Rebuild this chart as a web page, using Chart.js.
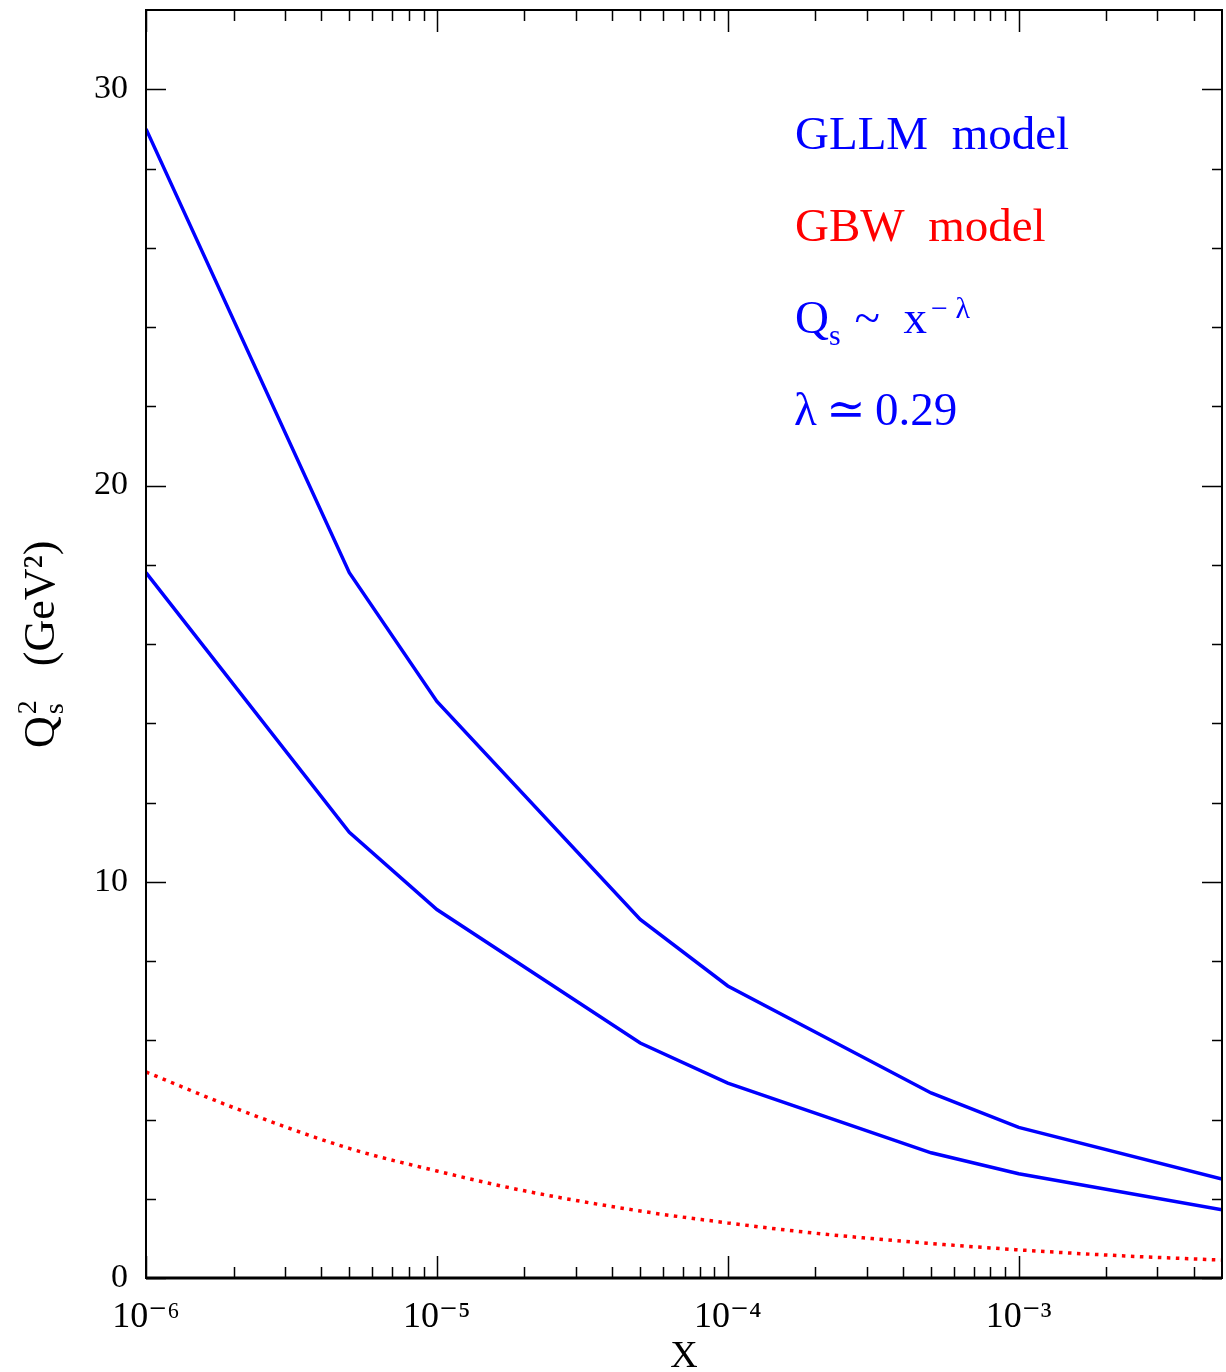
<!DOCTYPE html>
<html>
<head>
<meta charset="utf-8">
<script src="https://cdn.jsdelivr.net/npm/chart.js@4.4.0/dist/chart.umd.min.js"></script>
<style>
  body { margin: 0; background: #fff; }
  #wrap { width: 1226px; height: 1372px; }
</style>
</head>
<body>
<div id="wrap"><canvas id="myChart" width="1226" height="1372"></canvas></div>
<script>
// x values (Bjorken x) where the curves were read
const xGllm = [1e-6, 5e-6, 1e-5, 5e-5, 1e-4, 5e-4, 1e-3, 5e-3];
const gllmUpper = [29.0, 17.8, 14.55, 9.05, 7.37, 4.67, 3.8, 2.5];
const gllmLower = [17.8, 11.25, 9.3, 5.93, 4.92, 3.16, 2.63, 1.72];

const xGbw = [1e-6, 2e-6, 5e-6, 1e-5, 2e-5, 5e-5, 1e-4, 2e-4, 5e-4, 1e-3, 2e-3, 5e-3];
const gbw = [5.2, 4.3, 3.27, 2.7, 2.2, 1.69, 1.39, 1.13, 0.87, 0.71, 0.58, 0.45];

const xMajorTicks = [1e-6, 1e-5, 1e-4, 1e-3];
const xTickLabels = ['10\u207B\u2076', '10\u207B\u2075', '10\u207B\u2074', '10\u207B\u00B3'];
const yMajorTicks = [0, 10, 20, 30];
const yMinorTicks = [2, 4, 6, 8, 12, 14, 16, 18, 22, 24, 26, 28];

const AZUL = '#0000ff';
const ROJO = '#ff0000';
const FUENTE = '"Liberation Serif", "DejaVu Serif", serif';

function puntos(xs, ys) {
  return xs.map((x, i) => ({ x: x, y: ys[i] }));
}

// minor ticks on the log axis: 2..9 times each decade
function menoresX(min, max) {
  const res = [];
  for (let d = Math.floor(Math.log10(min)); d <= Math.ceil(Math.log10(max)); d++) {
    for (let k = 2; k <= 9; k++) {
      const v = k * Math.pow(10, d);
      if (v > min && v < max) res.push(v);
    }
  }
  return res;
}

const marcoPlugin = {
  id: 'marco',
  afterDraw(chart) {
    const ctx = chart.ctx;
    const a = chart.chartArea;
    const sx = chart.scales.x;
    const sy = chart.scales.y;
    ctx.save();
    ctx.strokeStyle = '#000';
    ctx.lineWidth = 1.5;
    // ticks inward, all four sides
    ctx.beginPath();
    xMajorTicks.forEach(v => {
      const px = Math.round(sx.getPixelForValue(v)) + 0.5;
      ctx.moveTo(px, a.bottom); ctx.lineTo(px, a.bottom - 22);
      ctx.moveTo(px, a.top); ctx.lineTo(px, a.top + 22);
    });
    menoresX(sx.min, sx.max).forEach(v => {
      const px = Math.round(sx.getPixelForValue(v)) + 0.5;
      ctx.moveTo(px, a.bottom); ctx.lineTo(px, a.bottom - 11);
      ctx.moveTo(px, a.top); ctx.lineTo(px, a.top + 11);
    });
    yMajorTicks.forEach(v => {
      const py = Math.round(sy.getPixelForValue(v)) + 0.5;
      ctx.moveTo(a.left, py); ctx.lineTo(a.left + 20, py);
      ctx.moveTo(a.right, py); ctx.lineTo(a.right - 20, py);
    });
    yMinorTicks.forEach(v => {
      const py = Math.round(sy.getPixelForValue(v)) + 0.5;
      ctx.moveTo(a.left, py); ctx.lineTo(a.left + 10, py);
      ctx.moveTo(a.right, py); ctx.lineTo(a.right - 10, py);
    });
    ctx.stroke();
    // frame
    ctx.lineWidth = 2;
    ctx.strokeRect(a.left, a.top, a.right - a.left, a.bottom - a.top);
    ctx.lineWidth = 3;
    ctx.beginPath();
    ctx.moveTo(a.left, a.bottom); ctx.lineTo(a.right, a.bottom);
    ctx.stroke();

    // annotations
    ctx.textBaseline = 'alphabetic';
    ctx.textAlign = 'left';
    ctx.font = '47px ' + FUENTE;
    ctx.fillStyle = AZUL;
    ctx.fillText('GLLM  model', 795, 149);
    ctx.fillStyle = ROJO;
    ctx.fillText('GBW  model', 795, 241);
    ctx.fillStyle = AZUL;
    let x = 795;
    ctx.fillText('Q', x, 333);
    x += ctx.measureText('Q').width;
    ctx.font = '30px ' + FUENTE;
    ctx.fillText('s', x, 345);
    x += ctx.measureText('s').width + 14;
    ctx.font = '47px ' + FUENTE;
    ctx.fillText('~  x', x, 333);
    x += ctx.measureText('~  x').width + 4;
    ctx.font = '30px ' + FUENTE;
    ctx.fillText('\u2212 \u03BB', x, 318);
    ctx.font = '47px ' + FUENTE;
    ctx.fillText('\u03BB\u2009\u2243\u20090.29', 794, 425);

    // y axis title
    ctx.fillStyle = '#000';
    ctx.translate(54, 748);
    ctx.rotate(-Math.PI / 2);
    ctx.font = '44px ' + FUENTE;
    ctx.fillText('Q', 0, 0);
    const wq = ctx.measureText('Q').width;
    ctx.font = '28px ' + FUENTE;
    ctx.fillText('2', wq + 2, -18);
    ctx.fillText('s', wq + 2, 9);
    ctx.font = '44px ' + FUENTE;
    ctx.fillText('(GeV\u00B2)', wq + 50, 0);
    ctx.restore();

    // x axis title
    ctx.save();
    ctx.font = '38px ' + FUENTE;
    ctx.fillStyle = '#000';
    ctx.textAlign = 'center';
    ctx.textBaseline = 'alphabetic';
    ctx.fillText('X', 684, 1367);
    ctx.restore();
  }
};

const config = {
  type: 'line',
  data: {
    datasets: [
      {
        label: 'GLLM upper',
        data: puntos(xGllm, gllmUpper),
        borderColor: AZUL,
        borderWidth: 3.5,
        pointRadius: 0,
        fill: false
      },
      {
        label: 'GLLM lower',
        data: puntos(xGllm, gllmLower),
        borderColor: AZUL,
        borderWidth: 3.5,
        pointRadius: 0,
        fill: false
      },
      {
        label: 'GBW model',
        data: puntos(xGbw, gbw),
        borderColor: ROJO,
        borderWidth: 3.5,
        borderDash: [3.5, 5.5],
        pointRadius: 0,
        cubicInterpolationMode: 'monotone',
        fill: false
      }
    ]
  },
  options: {
    responsive: false,
    animation: false,
    layout: { padding: { top: 10, right: 4, left: 0, bottom: 0 } },
    plugins: {
      legend: { display: false },
      tooltip: { enabled: false }
    },
    scales: {
      x: {
        type: 'logarithmic',
        min: 1e-6,
        max: 5e-3,
        border: { display: false },
        grid: { display: false },
        afterBuildTicks: (scale) => {
          scale.ticks = xMajorTicks.map(v => ({ value: v, major: true }));
        },
        afterFit: (scale) => {
          scale.height = 94;
          scale.paddingLeft = 0;
          scale.paddingRight = 0;
        },
        ticks: {
          autoSkip: false,
          maxRotation: 0,
          padding: 10,
          color: '#000',
          font: { family: FUENTE, size: 36 },
          callback: (value) => {
            const i = xMajorTicks.findIndex(t => Math.abs(t - value) / t < 1e-6);
            return i >= 0 ? xTickLabels[i] : '';
          }
        }
      },
      y: {
        min: 0,
        max: 32,
        border: { display: false },
        grid: { display: false },
        afterBuildTicks: (scale) => {
          scale.ticks = yMajorTicks.map(v => ({ value: v }));
        },
        afterFit: (scale) => {
          scale.width = 146;
          scale.paddingTop = 0;
          scale.paddingBottom = 0;
        },
        ticks: {
          padding: 10,
          color: '#000',
          font: { family: FUENTE, size: 34 }
        }
      }
    }
  },
  plugins: [marcoPlugin]
};

new Chart(document.getElementById('myChart'), config);
</script>
</body>
</html>
